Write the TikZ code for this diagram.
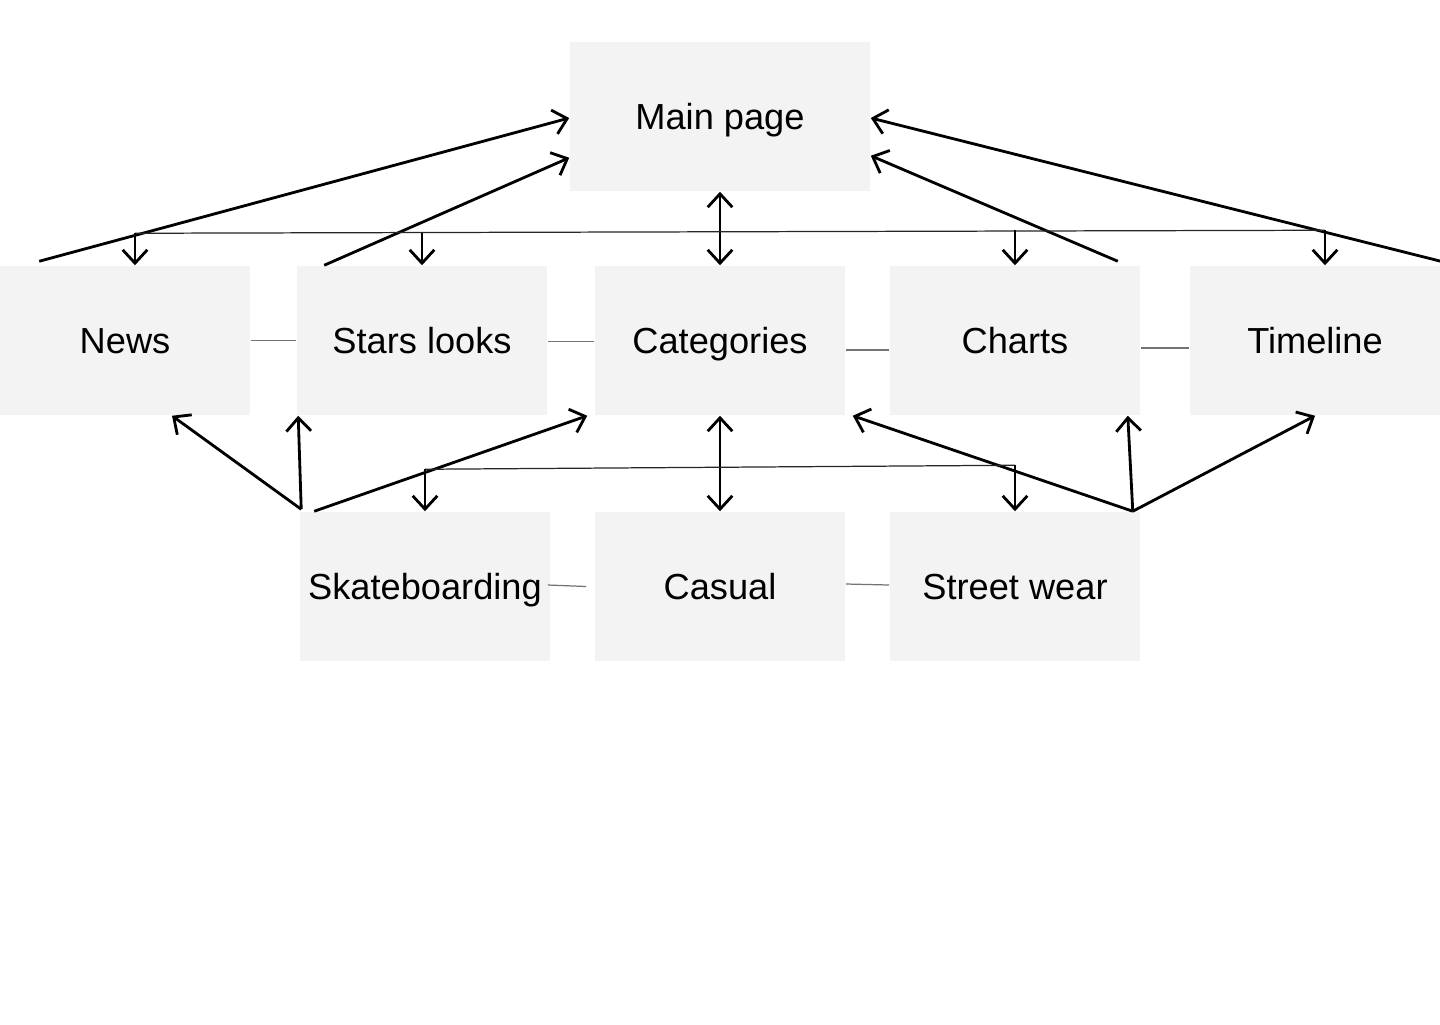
\documentclass[tikz,border=0pt]{standalone}
\usepackage{fontspec}
\setmainfont{Liberation Sans}
\usetikzlibrary{arrows.meta}

\begin{document}
\begin{tikzpicture}[x=0.01cm, y=-0.01cm,
  page/.style={fill=boxgray, inner sep=0pt, minimum width=2.5cm, minimum height=1.49cm,
    text height=7.4pt, text depth=0pt, font=\fontsize{10.3pt}{12pt}\selectfont},
  nav/.style={line width=0.8pt, -{Straight Barb[length=3.8pt, width=7pt]}},
  both/.style={nav, {Straight Barb[length=3.8pt, width=7pt]}-{Straight Barb[length=3.8pt, width=7pt]}},
  bus/.style={line width=0.35pt, black!85},
  link/.style={line width=0.35pt, black!55}]
\definecolor{boxgray}{HTML}{F3F3F3}
\useasboundingbox (0,0) rectangle (1440,1024);

\node[page, minimum width=3cm] (main) at (720,116.5) {Main page};
\node[page] (news) at (125,340.5) {News};
\node[page] (stars) at (422,340.5) {Stars looks};
\node[page] (cats) at (720,340.5) {Categories};
\node[page] (charts) at (1015,340.5) {Charts};
\node[page] (timeline) at (1315,340.5) {Timeline};
\node[page] (skate) at (425,586.5) {Skateboarding};
\node[page] (casual) at (720,586.5) {Casual};
\node[page] (street) at (1015,586.5) {Street wear};

% links between neighbours
\draw[link] (news.east) -- (stars.west);
\draw[link] ([shift={(0,1)}]stars.east) -- ([shift={(0,1)}]cats.west);
\draw[link] ([shift={(0,9.5)}]cats.east) -- ([shift={(0,9.5)}]charts.west);
\draw[link] ([shift={(0,7.5)}]charts.east) -- ([shift={(0,7.5)}]timeline.west);
\draw[link] ([shift={(-3,-1.5)}]skate.east) -- ([shift={(-8,0)}]casual.west);
\draw[link] ([shift={(0,-2.5)}]casual.east) -- ([shift={(0,-1.5)}]street.west);

% top level
\draw[nav] ([shift={(40,-4)}]news.north west) -- ([shift={(0,1.5)}]main.west);
\draw[nav] ([shift={(28,0)}]stars.north west) -- ([shift={(0,-34)}]main.south west);
\draw[nav] ([shift={(-23,-4)}]charts.north east) -- ([shift={(0,-36)}]main.south east);
\draw[nav] ([shift={(0,-4)}]timeline.north east) -- ([shift={(0,1.5)}]main.east);
\draw[both] (main.south) -- (cats.north);

\coordinate (topbusL) at ([shift={(10,-32)}]news.north);
\coordinate (topbusR) at ([shift={(10,-35)}]timeline.north);
\draw[bus] (topbusL) -- (topbusR);
\draw[nav] (topbusL) -- ([shift={(10,0)}]news.north);
\draw[nav] (stars.north |- topbusL) -- (stars.north);
\draw[nav] (charts.north |- topbusR) -- (charts.north);
\draw[nav] (topbusR) -- ([shift={(10,0)}]timeline.north);

% categories level
\draw[nav] ([shift={(2,-2)}]skate.north west) -- ([shift={(47,0)}]news.south);
\draw[nav] ([shift={(2,-2)}]skate.north west) -- ([shift={(2,0)}]stars.south west);
\draw[nav] ([shift={(15,0)}]skate.north west) -- ([shift={(-7,0)}]cats.south west);
\draw[both] (cats.south) -- (casual.north);
\draw[nav] ([shift={(-8,0)}]street.north east) -- ([shift={(7,0)}]cats.south east);
\draw[nav] ([shift={(-8,0)}]street.north east) -- ([shift={(-13,0)}]charts.south east);
\draw[nav] ([shift={(-8,0)}]street.north east) -- (timeline.south);

\coordinate (lowbusL) at ([shift={(0,-42)}]skate.north);
\coordinate (lowbusR) at ([shift={(0,-46)}]street.north);
\draw[bus] (lowbusL) -- (lowbusR);
\draw[nav] (lowbusL) -- (skate.north);
\draw[nav] (lowbusR) -- (street.north);
\end{tikzpicture}
\end{document}
